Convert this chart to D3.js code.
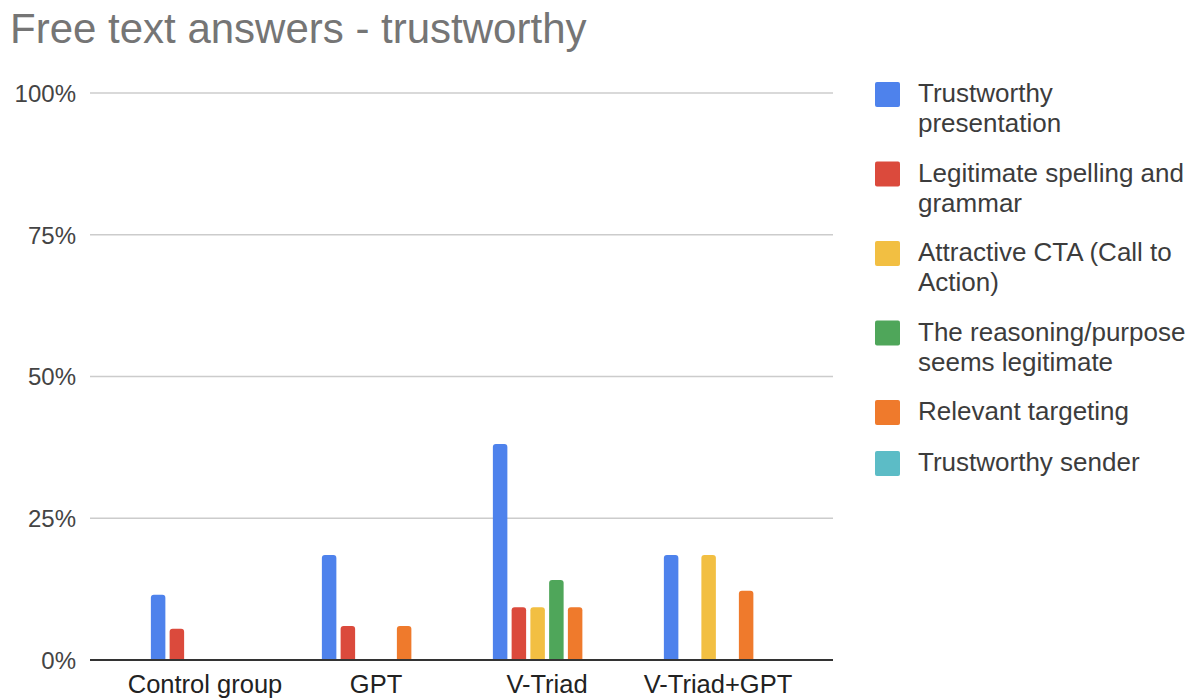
<!DOCTYPE html>
<html>
<head>
<meta charset="utf-8">
<script src="https://cdn.jsdelivr.net/npm/d3@7"></script>
<style>
  body { margin: 0; background: #fff; }
  svg { display: block; font-family: "Liberation Sans", Arial, sans-serif; }
</style>
</head>
<body>
<script>
const width = 1190;
const height = 698;

// data
const categories = ["Control group", "GPT", "V-Triad", "V-Triad+GPT"];
const seriesNames = [
  "Trustworthy presentation",
  "Legitimate spelling and grammar",
  "Attractive CTA (Call to Action)",
  "The reasoning/purpose seems legitimate",
  "Relevant targeting",
  "Trustworthy sender"
];
const seriesColors = ["#4e82ec", "#db4a3c", "#f2bf42", "#4fa65a", "#ef7a2c", "#5cbcc6"];
const trustworthyPresentation = [0.115, 0.185, 0.381, 0.185];
const legitimateSpelling = [0.055, 0.06, 0.093, 0];
const attractiveCTA = [0, 0, 0.093, 0.185];
const reasoningLegit = [0, 0, 0.141, 0];
const relevantTargeting = [0, 0.06, 0.093, 0.122];
const trustworthySender = [0, 0, 0, 0];
const seriesValues = [trustworthyPresentation, legitimateSpelling, attractiveCTA,
  reasoningLegit, relevantTargeting, trustworthySender];
const yTicks = [0, 0.25, 0.5, 0.75, 1];

const plot = { left: 90, right: 833, top: 93, bottom: 660 };

const svg = d3.select("body").append("svg")
  .attr("width", width)
  .attr("height", height);

svg.append("text")
  .attr("x", 10)
  .attr("y", 43)
  .attr("fill", "#757575")
  .style("font-size", "42px")
  .text("Free text answers - trustworthy");

const y = d3.scaleLinear().domain([0, 1]).range([plot.bottom, plot.top]);

const x0 = d3.scaleBand()
  .domain(categories)
  .range([119.5, 803.5]);

// bars of a group occupy 108px centred in the band
const groupW = 108.25;
const x1 = d3.scaleBand()
  .domain(seriesNames)
  .range([(x0.bandwidth() - groupW) / 2, (x0.bandwidth() + groupW) / 2])
  .paddingInner(0.227)
  .paddingOuter(0);

// gridlines
svg.append("g")
  .selectAll("line")
  .data(yTicks.filter(d => d > 0))
  .join("line")
  .attr("x1", plot.left)
  .attr("x2", plot.right)
  .attr("y1", d => y(d))
  .attr("y2", d => y(d))
  .attr("stroke", "#cccccc")
  .attr("stroke-width", 1.3);

// y labels
const yAxis = d3.axisLeft(y).tickValues(yTicks).tickFormat(d3.format(".0%")).tickSize(0).tickPadding(0);
const yg = svg.append("g").attr("transform", `translate(76,0)`).call(yAxis);
yg.select(".domain").remove();
yg.selectAll("text")
  .attr("fill", "#444")
  .style("font-size", "24px")
  .style("font-family", "'Liberation Sans', Arial, sans-serif")
  .attr("dy", "0.35em");

// bars with rounded tops
function barPath(x, yTop, w, yBase, r) {
  const h = yBase - yTop;
  r = Math.min(r, h, w / 2);
  return `M${x},${yBase}V${yTop + r}Q${x},${yTop} ${x + r},${yTop}H${x + w - r}Q${x + w},${yTop} ${x + w},${yTop + r}V${yBase}Z`;
}

const barData = [];
categories.forEach((c, ci) => {
  seriesNames.forEach((s, si) => {
    const v = seriesValues[si][ci];
    if (v > 0) barData.push({ cat: c, series: s, value: v, color: seriesColors[si] });
  });
});

svg.append("g")
  .selectAll("path")
  .data(barData)
  .join("path")
  .attr("d", d => barPath(x0(d.cat) + x1(d.series), y(d.value), x1.bandwidth(), y(0), 3))
  .attr("fill", d => d.color);

// baseline
svg.append("line")
  .attr("x1", plot.left)
  .attr("x2", plot.right)
  .attr("y1", y(0))
  .attr("y2", y(0))
  .attr("stroke", "#333")
  .attr("stroke-width", 2);

// x labels
const xAxis = d3.axisBottom(x0).tickSize(0).tickPadding(0);
const xg = svg.append("g").attr("transform", `translate(0,${y(0)})`).call(xAxis);
xg.select(".domain").remove();
xg.selectAll("text")
  .attr("fill", "#222")
  .attr("y", 33)
  .attr("dy", 0)
  .style("font-size", "25.5px")
  .style("font-family", "'Liberation Sans', Arial, sans-serif");

// legend
const legend = svg.append("g");
let ly = 82;
seriesNames.forEach((name, i) => {
  const g = legend.append("g").attr("transform", `translate(875,${ly})`);
  g.append("rect")
    .attr("width", 25)
    .attr("height", 25)
    .attr("rx", 2)
    .attr("fill", seriesColors[i]);
  const t = g.append("text")
    .attr("x", 43)
    .attr("y", 20)
    .attr("fill", "#3c3c3c")
    .style("font-size", "26px");
  // wrap words into lines of max width
  const words = name.split(" ");
  let line = [];
  let lines = 0;
  let tspan = t.append("tspan").attr("x", 43).attr("dy", 0);
  words.forEach(w => {
    line.push(w);
    tspan.text(line.join(" "));
    if (tspan.node().getComputedTextLength() > 272 && line.length > 1) {
      line.pop();
      tspan.text(line.join(" "));
      line = [w];
      lines++;
      tspan = t.append("tspan").attr("x", 43).attr("dy", 30).text(w);
    }
  });
  ly += lines > 0 ? 79.5 : 51;
});
</script>
</body>
</html>
